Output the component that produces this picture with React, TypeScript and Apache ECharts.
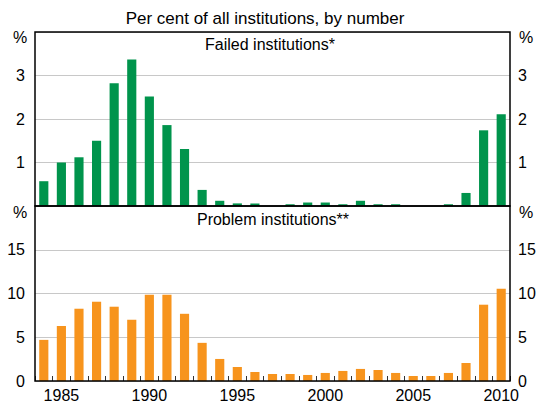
import React, { useEffect, useRef } from "react";
import * as echarts from "echarts";

const years: string[] = [
  "1984", "1985", "1986", "1987", "1988", "1989", "1990", "1991", "1992",
  "1993", "1994", "1995", "1996", "1997", "1998", "1999", "2000", "2001",
  "2002", "2003", "2004", "2005", "2006", "2007", "2008", "2009", "2010",
];

const failedInstitutions: number[] = [
  0.57, 1.0, 1.12, 1.5, 2.82, 3.37, 2.52, 1.86, 1.31,
  0.37, 0.12, 0.06, 0.06, 0, 0.04, 0.08, 0.08, 0.04,
  0.12, 0.04, 0.04, 0, 0, 0.04, 0.3, 1.74, 2.11,
];

const problemInstitutions: number[] = [
  4.7, 6.3, 8.26, 9.06, 8.49, 7.0, 9.86, 9.86, 7.68,
  4.36, 2.52, 1.6, 1.03, 0.8, 0.8, 0.69, 0.92, 1.15,
  1.38, 1.26, 0.92, 0.57, 0.57, 0.92, 2.06, 8.72, 10.55,
];

const failedTicks = { min: 0, max: 4, interval: 1 };
const problemTicks = { min: 0, max: 20, interval: 5 };

const subtitle = "Per cent of all institutions, by number";
const failedTitle = "Failed institutions*";
const problemTitle = "Problem institutions**";

const FONT = '"Liberation Sans", Arial, sans-serif';

export default function App() {
  const ref = useRef<HTMLDivElement>(null);

  useEffect(() => {
    if (!ref.current) return;
    const chart = echarts.init(ref.current, undefined, { renderer: "svg" });

    const L = 35;
    const W = 475;
    const T1 = 32;
    const H1 = 174;
    const T2 = 206;
    const H2 = 175;

    const yLabel = (hide: number[]) => ({
      fontSize: 16,
      color: "#000",
      fontFamily: FONT,
      formatter: (v: number) => (hide.includes(v) ? "" : String(v)),
    });

    const valueAxis = (
      gridIndex: number,
      position: "left" | "right",
      ticks: { min: number; max: number; interval: number },
      hide: number[],
      split: boolean
    ) => ({
      type: "value",
      gridIndex,
      position,
      min: ticks.min,
      max: ticks.max,
      interval: ticks.interval,
      axisLine: { show: false },
      axisTick: { show: false },
      axisLabel: { ...yLabel(hide), margin: position === "left" ? 10 : 8 },
      splitLine: { show: split, lineStyle: { color: "#c8c8c8", width: 1 } },
    });

    const textEl = (text: string, x: number, y: number, size: number) => ({
      type: "text",
      x,
      y,
      z: 110,
      style: {
        text,
        fill: "#000",
        font: `${size}px ${FONT}`,
        textAlign: "center",
        verticalAlign: "middle",
      },
    });

    chart.setOption({
      animation: false,
      textStyle: { fontFamily: FONT },
      grid: [
        { left: L, top: T1, width: W, height: H1 },
        { left: L, top: T2, width: W, height: H2 },
      ],
      xAxis: [
        {
          type: "category",
          gridIndex: 0,
          data: years,
          axisLine: { show: false },
          axisTick: { show: false },
          axisLabel: { show: false },
        },
        {
          type: "category",
          gridIndex: 1,
          data: years,
          axisLine: { show: false },
          axisTick: {
            show: true,
            inside: true,
            interval: 0,
            length: 5,
            lineStyle: { color: "#333", width: 1 },
          },
          axisLabel: {
            interval: (_i: number, v: string) => Number(v) % 5 === 0,
            fontSize: 16,
            color: "#000",
            fontFamily: FONT,
            margin: 6,
          },
        },
      ],
      yAxis: [
        valueAxis(0, "left", failedTicks, [0, 4], true),
        valueAxis(0, "right", failedTicks, [0, 4], false),
        valueAxis(1, "left", problemTicks, [20], true),
        valueAxis(1, "right", problemTicks, [20], false),
      ],
      series: [
        {
          type: "bar",
          name: failedTitle,
          xAxisIndex: 0,
          yAxisIndex: 0,
          data: failedInstitutions,
          barWidth: "52%",
          itemStyle: { color: "#00944C" },
        },
        {
          type: "bar",
          name: problemTitle,
          xAxisIndex: 1,
          yAxisIndex: 2,
          data: problemInstitutions,
          barWidth: "52%",
          itemStyle: { color: "#F7941D" },
        },
      ],
      graphic: [
        {
          type: "rect",
          z: 100,
          shape: { x: L, y: T1, width: W, height: H1 },
          style: { fill: "none", stroke: "#000", lineWidth: 1.5 },
        },
        {
          type: "rect",
          z: 100,
          shape: { x: L, y: T2, width: W, height: H2 },
          style: { fill: "none", stroke: "#000", lineWidth: 1.5 },
        },
        textEl(subtitle, 265, 18, 17),
        textEl(failedTitle, 270, 44, 16),
        textEl(problemTitle, 273, 219, 16),
        textEl("%", 20, 37, 16),
        textEl("%", 526, 37, 16),
        textEl("%", 20, 212, 16),
        textEl("%", 526, 212, 16),
      ],
    });

    return () => chart.dispose();
  }, []);

  return (
    <div
      ref={ref}
      style={{ position: "fixed", left: 0, top: 0, width: 544, height: 403, background: "#fff" }}
    />
  );
}
